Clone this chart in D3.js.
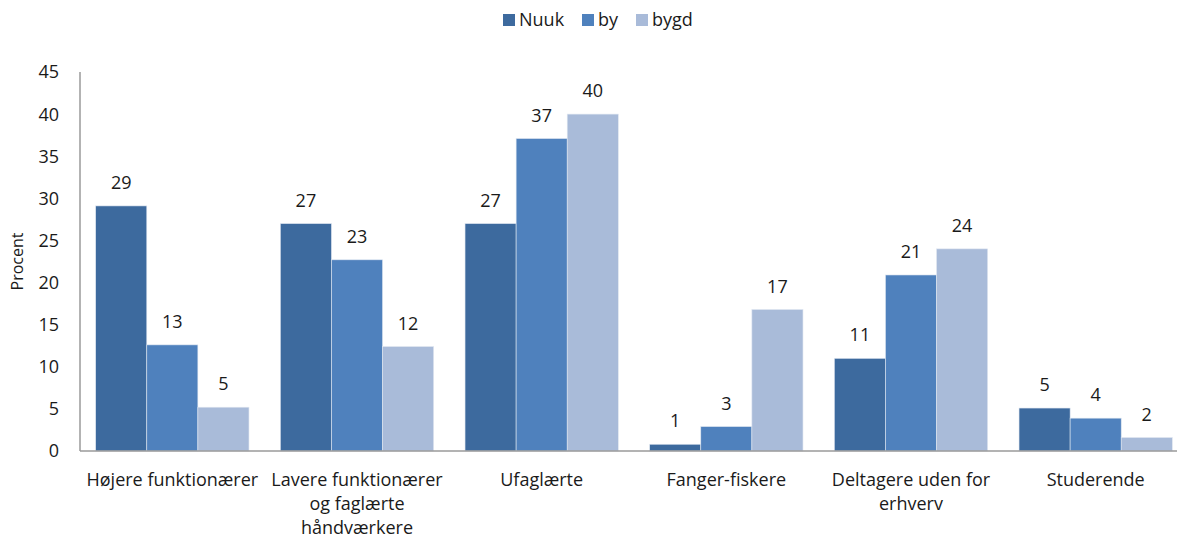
<!DOCTYPE html>
<html>
<head>
<meta charset="utf-8">
<script src="https://cdn.jsdelivr.net/npm/d3@7"></script>
<style>
  body { margin: 0; background: #fff; overflow: hidden; }
  text { font-family: "Open Sans", Lato, sans-serif; fill: #1a1a1a; }
</style>
</head>
<body>
<div id="chart"></div>
<script>
var categories = [
    ["Højere funktionærer"],
    ["Lavere funktionærer", "og faglærte", "håndværkere"],
    ["Ufaglærte"],
    ["Fanger-fiskere"],
    ["Deltagere uden for", "erhverv"],
    ["Studerende"]
];
var seriesNames = ["Nuuk", "by", "bygd"];
var nuuk = [29.1, 27.0, 27.0, 0.8, 11.0, 5.1];
var by = [12.6, 22.7, 37.1, 2.9, 20.9, 3.9];
var bygd = [5.2, 12.4, 40.0, 16.8, 24.0, 1.6];
var yTicks = [0, 5, 10, 15, 20, 25, 30, 35, 40, 45];
var colors = ["#3d6a9e", "#4f81bd", "#a9bbd9"];

var width = 1177, height = 539;
var margin = {top: 72, left: 80, bottom: 88};
var plotRight = 1188; // plot area runs slightly past the image edge

var svg = d3.select("#chart").append("svg")
    .attr("width", width)
    .attr("height", height);

var catKeys = categories.map(function(c, i) { return i; });
var series = [nuuk, by, bygd];

var x0 = d3.scaleBand()
    .domain(catKeys)
    .range([margin.left, plotRight])
    .paddingInner(0.17)
    .paddingOuter(0.085);

var x1 = d3.scaleBand()
    .domain(seriesNames)
    .range([0, x0.bandwidth()]);

var y = d3.scaleLinear()
    .domain([0, 45])
    .range([height - margin.bottom, margin.top]);

// y axis labels
svg.append("g")
    .selectAll("text")
    .data(yTicks)
    .enter()
    .append("text")
        .attr("x", margin.left - 21)
        .attr("y", function(d) { return y(d); })
        .attr("dy", "0.36em")
        .attr("text-anchor", "end")
        .style("font-size", "18px")
        .text(function(d) { return d; });

svg.append("text")
    .attr("transform", "translate(23," + ((y(0) + y(45)) / 2) + ") rotate(-90)")
    .attr("text-anchor", "middle")
    .style("font-size", "16px")
    .text("Procent");

// bars
var groups = svg.append("g")
    .selectAll("g")
    .data(catKeys)
    .enter()
    .append("g")
        .attr("transform", function(d) { return "translate(" + x0(d) + ",0)"; });

function cells(c) {
    return seriesNames.map(function(s, i) { return {s: s, i: i, v: series[i][c]}; });
}

groups.selectAll("rect")
    .data(cells)
    .enter()
    .append("rect")
        .attr("x", function(d) { return x1(d.s); })
        .attr("y", function(d) { return y(d.v); })
        .attr("width", x1.bandwidth())
        .attr("height", function(d) { return y(0) - y(d.v); })
        .style("fill", function(d) { return colors[d.i]; })
        .style("stroke", "#dfe6f0")
        .style("stroke-width", 0.6);

groups.selectAll("text.val")
    .data(cells)
    .enter()
    .append("text")
        .classed("val", true)
        .attr("x", function(d) { return x1(d.s) + x1.bandwidth() / 2; })
        .attr("y", function(d) { return y(d.v) - 17; })
        .attr("text-anchor", "middle")
        .style("font-size", "18px")
        .text(function(d) { return Math.round(d.v); });

// axes lines
svg.append("line")
    .attr("x1", margin.left).attr("x2", margin.left)
    .attr("y1", y(45)).attr("y2", y(0))
    .style("stroke", "#9a9a9a").style("stroke-width", 1.5);

svg.append("line")
    .attr("x1", margin.left).attr("x2", width)
    .attr("y1", y(0)).attr("y2", y(0))
    .style("stroke", "#9a9a9a").style("stroke-width", 1.5);

// category labels
var catLabels = svg.append("g")
    .selectAll("text")
    .data(catKeys)
    .enter()
    .append("text")
        .attr("text-anchor", "middle")
        .style("font-size", "18px");

catLabels.selectAll("tspan")
    .data(function(c) { return categories[c].map(function(l) { return {c: c, l: l}; }); })
    .enter()
    .append("tspan")
        .attr("x", function(d) { return x0(d.c) + x0.bandwidth() / 2; })
        .attr("y", function(d, i) { return y(0) + 35 + i * 24; })
        .text(function(d) { return d.l; });

// legend
var legendX = [503, 582, 636];
var legend = svg.append("g")
    .selectAll("g")
    .data(seriesNames)
    .enter()
    .append("g")
        .attr("transform", function(d, i) { return "translate(" + legendX[i] + ",20)"; });

legend.append("rect")
    .attr("x", 0).attr("y", -6)
    .attr("width", 12).attr("height", 12)
    .style("fill", function(d, i) { return colors[i]; });

legend.append("text")
    .attr("x", 16)
    .attr("dy", "0.36em")
    .style("font-size", "18px")
    .text(function(d) { return d; });
</script>
</body>
</html>
